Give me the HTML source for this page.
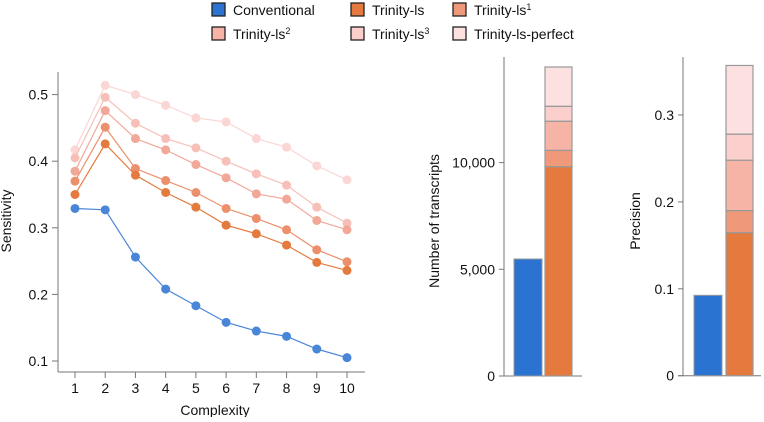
<!DOCTYPE html>
<html><head><meta charset="utf-8"><style>
body{margin:0;background:#fff;width:764px;height:417px;overflow:hidden}
svg{font-family:"Liberation Sans",Arial,sans-serif}
</style></head><body>
<svg id="c" width="764" height="417"></svg>
<script>
const complexity=[1,2,3,4,5,6,7,8,9,10];
const seriesNames=["Conventional","Trinity-ls","Trinity-ls1","Trinity-ls2","Trinity-ls3","Trinity-ls-perfect"];
const conventional=[0.329,0.327,0.256,0.208,0.183,0.158,0.145,0.137,0.118,0.105];
const trinityLs=[0.350,0.426,0.379,0.353,0.331,0.304,0.291,0.274,0.248,0.236];
const trinityLs1=[0.370,0.451,0.389,0.371,0.353,0.329,0.314,0.297,0.267,0.249];
const trinityLs2=[0.385,0.476,0.434,0.417,0.395,0.375,0.351,0.343,0.311,0.297];
const trinityLs3=[0.405,0.496,0.457,0.434,0.420,0.400,0.381,0.364,0.331,0.307];
const trinityLsPerfect=[0.417,0.514,0.500,0.484,0.465,0.459,0.434,0.421,0.393,0.372];
const sensTicks=[0.1,0.2,0.3,0.4,0.5];
const transcriptsConv=5483;
const transcriptsTrinity=[9810,10575,11940,12640,14480];
const transcriptTicks=[0,5000,10000];
const precisionConv=0.0925;
const precisionTrinity=[0.1646,0.190,0.248,0.278,0.357];
const precisionTicks=[0,0.1,0.2,0.3];

const colors=["#2a73d0","#e57a3e","#f0997a","#f6b4a6","#fbd0cc","#fde1e1"];
const lineColors=["#4a86d8","#e57a3e","#ec8f6c","#f2a898","#f6c0b8","#fad6d4"];
const svg=document.getElementById('c');
const NS="http://www.w3.org/2000/svg";
function el(t,a,p){const e=document.createElementNS(NS,t);for(const k in a)e.setAttribute(k,a[k]);(p||svg).appendChild(e);return e;}
function txt(x,y,s,a,p){const e=el('text',Object.assign({x:x,y:y,'font-size':14,fill:'#111'},a||{}),p);e.textContent=s;return e;}

// legend
const legend=el('g',{});


const legLabels=[["Conventional",""],["Trinity-ls",""],["Trinity-ls","1"],["Trinity-ls","2"],["Trinity-ls","3"],["Trinity-ls-perfect",""]];
const legX=[212,351,453],legY=[3,27];
legLabels.forEach((l,i)=>{
  const g=el('g',{},legend);
  
  
  const x=legX[i%3],y=legY[Math.floor(i/3)];
  el('rect',{x:x,y:y,width:13,height:13,fill:colors[i],stroke:'#222','stroke-width':1.3},g);
  const t=txt(x+21,y+12,l[0],{},g);
  if(l[1]){const ts=document.createElementNS(NS,'tspan');ts.setAttribute('dy',-5);ts.setAttribute('font-size',9);ts.textContent=l[1];t.appendChild(ts);}
});

// line chart
const lx=v=>75+(v-1)*(347-75)/9;
const ly=v=>361-(v-0.1)*666;
const lc=el('g',{});


el('line',{x1:58,y1:72,x2:58,y2:372,stroke:'#777'},lc);
el('line',{x1:58,y1:372,x2:365,y2:372,stroke:'#777'},lc);
sensTicks.forEach(t=>{el('line',{x1:52,x2:58,y1:ly(t),y2:ly(t),stroke:'#777'},lc);txt(48,ly(t)+5,t.toFixed(1),{'text-anchor':'end'},lc);});
complexity.forEach(c=>{el('line',{x1:lx(c),x2:lx(c),y1:372,y2:378,stroke:'#777'},lc);txt(lx(c),393,String(c),{'text-anchor':'middle'},lc);});
txt(215,415,"Complexity",{'text-anchor':'middle'},lc);
txt(0,0,"Sensitivity",{'text-anchor':'middle',transform:'translate(11,221) rotate(-90)'},lc);
const allSeries=[conventional,trinityLs,trinityLs1,trinityLs2,trinityLs3,trinityLsPerfect];
for(let s=allSeries.length-1;s>=0;s--){
  const d=allSeries[s];
  const g=el('g',{},lc);
  
  
  el('polyline',{points:d.map((v,i)=>lx(complexity[i])+','+ly(v)).join(' '),fill:'none',stroke:lineColors[s],'stroke-width':1.2},g);
  d.forEach((v,i)=>el('circle',{cx:lx(complexity[i]),cy:ly(v),r:4.5,fill:lineColors[s]},g));
}

// stacked bar charts
function barChart(name,axisX,y0,perUnit,ticks,fmt,conv,stack,blueX,orX,label,labelX){
  const g=el('g',{});
  
  
  const y=v=>y0-v*perUnit;
  el('line',{x1:axisX,y1:57,x2:axisX,y2:y0,stroke:'#777'},g);
  el('line',{x1:axisX-5,y1:y0,x2:axisX+78,y2:y0,stroke:'#777'},g);
  ticks.forEach(t=>{el('line',{x1:axisX-5,x2:axisX,y1:y(t),y2:y(t),stroke:'#777'},g);txt(axisX-9,y(t)+5,fmt(t),{'text-anchor':'end'},g);});
  const b=el('rect',{x:blueX,y:y(conv),width:28,height:y0-y(conv),fill:colors[0],stroke:'#999','stroke-width':1},g);
  
  
  let prev=0;
  stack.forEach((v,i)=>{
    const r=el('rect',{x:orX,y:y(v),width:27,height:y(prev)-y(v),fill:colors[i+1],stroke:'#999','stroke-width':1.2},g);
    
    
    prev=v;
  });
  txt(0,0,label,{'text-anchor':'middle',transform:'translate('+labelX+',221) rotate(-90)'},g);
}
barChart('transcripts-chart',504,376,106.7/5000,transcriptTicks,t=>t.toLocaleString('en-US'),transcriptsConv,transcriptsTrinity,514,545,"Number of transcripts",439);
barChart('precision-chart',683,375.7,869,precisionTicks,t=>t===0?"0":t.toFixed(1),precisionConv,precisionTrinity,694,726,"Precision",640);
</script>
</body></html>
